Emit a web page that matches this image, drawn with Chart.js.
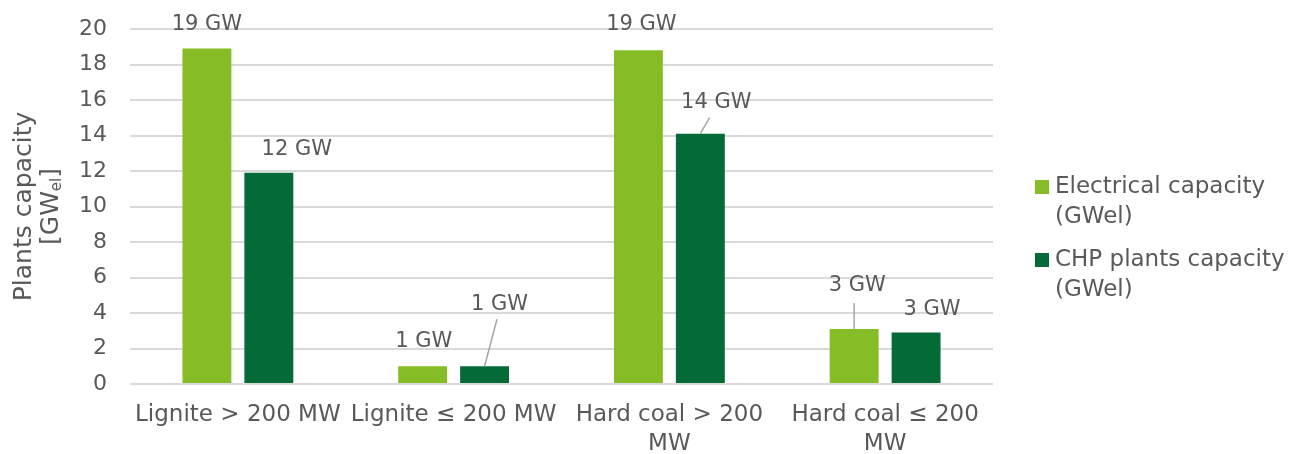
<!DOCTYPE html>
<html>
<head>
<meta charset="utf-8">
<script src="https://cdn.jsdelivr.net/npm/chart.js@4.4.0/dist/chart.umd.min.js"></script>
<style>
html,body{margin:0;padding:0;background:#fff;}
#wrap{width:1310px;height:454px;position:relative;}
</style>
</head>
<body>
<div id="wrap"><canvas id="c" width="1310" height="454"></canvas></div>
<script>
const categories = [["Lignite > 200 MW"], ["Lignite ≤ 200 MW"], ["Hard coal > 200", "MW"], ["Hard coal ≤ 200", "MW"]];
const electricalCapacity = [18.9, 1.0, 18.8, 3.1];
const chpCapacity = [11.9, 1.0, 14.1, 2.9];
const seriesNames = [["Electrical capacity", "(GWel)"], ["CHP plants capacity", "(GWel)"]];
const yTicks = [0, 2, 4, 6, 8, 10, 12, 14, 16, 18, 20];

const FONT = "'DejaVu Sans', Verdana, sans-serif";
const TXT = '#595959';
const C1 = '#86bc25';
const C2 = '#046a38';

// label placement (offset of label centre from bar-top centre, and leader type)
const labelPlacement = [
  [{dx:0, dy:-24, leader:false}, {dx:1, dy:-25, leader:false}, {dx:3, dy:-26, leader:false}, {dx:3, dy:-43, leader:'v'}],
  [{dx:28, dy:-23, leader:false}, {dx:15, dy:-62, leader:'d'}, {dx:16, dy:-31, leader:'d'}, {dx:16, dy:-23, leader:false}]
];

const labelPlugin = {
  id: 'labels',
  afterDatasetsDraw(chart) {
    const ctx = chart.ctx;
    ctx.save();
    ctx.font = '21px ' + FONT;
    ctx.fillStyle = TXT;
    ctx.textAlign = 'center';
    ctx.textBaseline = 'middle';
    chart.data.datasets.forEach((ds, di) => {
      const meta = chart.getDatasetMeta(di);
      meta.data.forEach((el, i) => {
        const p = labelPlacement[di][i];
        const lx = el.x + p.dx, ly = el.y + p.dy;
        if (p.leader) {
          ctx.strokeStyle = '#a6a6a6';
          ctx.lineWidth = 1.5;
          ctx.beginPath();
          ctx.moveTo(el.x, el.y);
          if (p.leader === 'v') {
            ctx.lineTo(el.x, ly + 17);
          } else {
            const t = (p.dy + 15) / p.dy;
            ctx.lineTo(el.x + p.dx * t + 1, ly + 15);
          }
          ctx.stroke();
        }
        ctx.fillText(Math.round(ds.data[i]) + ' GW', lx, ly);
      });
    });
    ctx.restore();
  }
};

const extrasPlugin = {
  id: 'extras',
  afterDraw(chart) {
    const ctx = chart.ctx;
    const area = chart.chartArea;
    const cy = (area.top + area.bottom) / 2;
    ctx.save();
    // axis title
    ctx.fillStyle = TXT;
    ctx.translate(0, cy);
    ctx.rotate(-Math.PI / 2);
    ctx.textAlign = 'center';
    ctx.textBaseline = 'middle';
    ctx.font = '25px ' + FONT;
    ctx.fillText('Plants capacity', 0, 24);
    // second line with subscript
    const a = '[GW', b = 'el', c = ']';
    ctx.font = '25px ' + FONT;
    const wa = ctx.measureText(a).width, wc = ctx.measureText(c).width;
    ctx.font = '15px ' + FONT;
    const wb = ctx.measureText(b).width;
    const total = wa + wb + wc;
    let x0 = -total / 2;
    ctx.textAlign = 'left';
    ctx.font = '25px ' + FONT;
    ctx.fillText(a, x0, 51);
    ctx.font = '15px ' + FONT;
    ctx.fillText(b, x0 + wa, 57);
    ctx.font = '25px ' + FONT;
    ctx.fillText(c, x0 + wa + wb, 51);
    ctx.restore();

    // legend
    ctx.save();
    ctx.font = '23px ' + FONT;
    ctx.textBaseline = 'middle';
    ctx.textAlign = 'left';
    const colors = [C1, C2];
    const tops = [187, 260];
    seriesNames.forEach((lines, i) => {
      ctx.fillStyle = colors[i];
      ctx.fillRect(1035, tops[i] - 7, 14, 14);
      ctx.fillStyle = TXT;
      lines.forEach((ln, j) => ctx.fillText(ln, 1055, tops[i] + j * 30));
    });
    ctx.restore();
  }
};

new Chart(document.getElementById('c'), {
  type: 'bar',
  data: {
    labels: categories,
    datasets: [
      {label: seriesNames[0].join(' '), data: electricalCapacity, backgroundColor: C1, barPercentage: 0.79, categoryPercentage: 0.574},
      {label: seriesNames[1].join(' '), data: chpCapacity, backgroundColor: C2, barPercentage: 0.79, categoryPercentage: 0.574}
    ]
  },
  options: {
    responsive: false,
    animation: false,
    devicePixelRatio: 1,
    layout: {autoPadding: false, padding: {top: 29, right: 317, left: 0, bottom: 0}},
    plugins: {legend: {display: false}, tooltip: {enabled: false}},
    scales: {
      x: {
        grid: {display: false, drawTicks: false},
        border: {display: false},
        ticks: {color: TXT, font: {family: FONT, size: 23, lineHeight: 1.25}, padding: 17, maxRotation: 0, autoSkip: false},
        afterFit(s) { s.height = 70; }
      },
      y: {
        min: 0, max: 20,
        afterBuildTicks(s) { s.ticks = yTicks.map(v => ({value: v})); },
        grid: {color: '#d9d9d9', lineWidth: 2, drawTicks: true, tickLength: 23, tickColor: 'rgba(0,0,0,0)'},
        border: {display: false},
        ticks: {color: TXT, font: {family: FONT, size: 22}, padding: 0},
        afterFit(s) { s.width = 130; }
      }
    }
  },
  plugins: [labelPlugin, extrasPlugin]
});
</script>
</body>
</html>
